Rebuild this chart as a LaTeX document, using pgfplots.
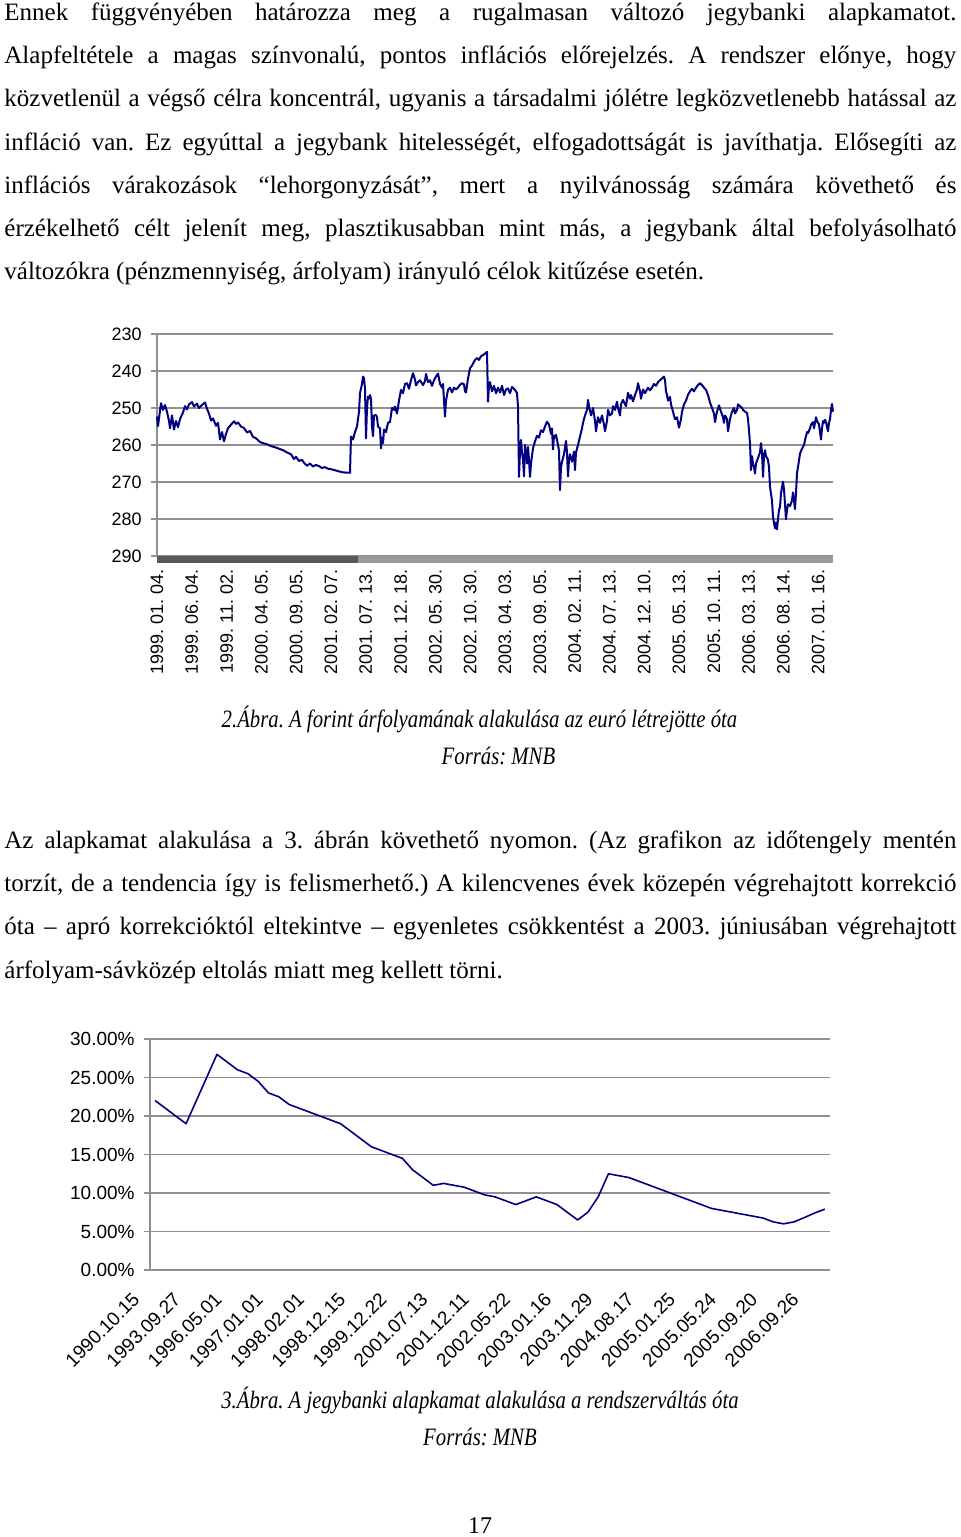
\documentclass[border=0pt]{standalone}
\usepackage{fontspec}
\setmainfont{Liberation Serif}
\newfontfamily\capfont[FakeStretch=0.83]{Liberation Serif}
\newfontfamily\chartfont{Liberation Sans}
\usepackage{pgfplots}
\pgfplotsset{compat=1.18}
\definecolor{navyline}{HTML}{000080}
\definecolor{gridgray}{HTML}{909090}
\newcommand{\jl}[1]{\makebox[476pt][s]{#1}}
\newcommand{\bodyfont}{\fontsize{12.5}{15}\selectfont}
\frenchspacing

% EUR/HUF, x = trading-day position (label step 34.8)
\pgfplotstableread{
x v
0 252.3
1 254.9
4 248.7
6 250.5
8 249.2
10 251
12 253.5
13 255.5
15 252
17 255.8
19 253.5
21 255.2
23 253
26 251.2
28 249.5
30 250.4
32 249
35 248.4
37 249.6
40 248.8
42 250
45 249.2
48 248.5
50 250.2
52 251.5
54 253.4
56 252.8
59 254.8
61 254
63 258.5
65 256.5
67 259
69 257
71 255.5
74 254.5
77 253.6
79 254.3
81 253.9
84 255
87 255.4
90 256.6
93 256.2
96 257.8
99 258.2
103 259.2
106 259.5
110 259.8
114 260.3
118 260.6
122 261
126 261.4
130 262
134 262.5
137 263.8
139 263.2
142 264.3
145 264
147 264.8
150 265.6
153 265
156 265.8
159 265.4
162 265.7
165 266.2
168 266
171 266.4
175 266.6
179 266.9
183 267.2
186 267.4
193 267.5
194 257.7
196 258.5
198 256.5
200 255
202 251
203 246
205 243.5
206 241.5
207 242
208 244.7
209 258.2
210 250
211 246.9
212 247.5
213 246.5
214 247.5
215 255
216 257.6
217 252
219 251.9
220 252.5
221 255
223 255.5
224 260.9
225 258
226 259.5
227 255.8
229 256.5
231 254
233 253.8
235 250
237 250.5
238 249.6
240 251.5
242 248
244 245.1
246 246
248 243.5
250 243.3
252 244.8
254 242.5
256 240.6
258 242.3
259 243.9
261 243
263 242.5
266 243.8
268 242.7
269 240.8
271 243
273 242.5
275 244
277 242.5
279 241.5
281 240.7
282 242
283 243.5
285 244.5
286 243.5
287 248
288 252.3
289 248
291 245.1
293 244.5
295 245.8
297 244.5
299 245
301 244.5
303 243.7
305 243.3
307 243.6
308 245.5
309 245.8
311 242
313 239.3
315 238.5
318 237
320 236.5
322 237
324 236
326 235.7
328 235.3
330 234.8
331 248.3
332 244
333 243
335 245.5
337 244
339 246
341 244.5
343 245.8
345 244
347 246.5
349 245
351 244.7
353 246
355 244.3
357 244.8
359 245.5
360 246
361 249.6
362 268.6
363 262
364 258.6
365 262
366 264
367 268.5
368 260
369 262.5
370 265
371 260.5
372 264
373 268.6
374 265
376 260.9
378 259
380 257.5
382 258
384 256
386 256.5
388 255
390 253.7
392 254.5
394 257
395 255.5
396 261.2
397 257.5
398 258
399 257.2
401 260
402 261.5
403 272.2
404 266
405 264.5
407 262.5
409 258.9
410 262
411 268.5
412 264
413 262.5
415 264.5
417 261.8
418 266.8
419 262
421 260
423 257.7
425 255.5
426 254
428 252
430 250.5
431 247.8
432 249.5
434 252
436 250
438 253.5
439 256.3
441 252.5
443 254
445 252
447 254.5
448 256.3
450 253.5
451 250.5
453 252
455 251.5
456 249.5
458 250.5
460 248.3
461 250
463 252
464 249
466 247.8
468 249
469 249.5
471 245.9
473 247.5
474 246.5
476 248.2
478 246.5
480 245
481 243.3
483 245.5
484 247.5
486 245
488 246
491 244.5
493 245.2
495 244.5
497 243.5
499 244
501 243
503 242.5
505 242
507 241.5
508 242.5
509 245.5
510 246.5
511 248
513 247
514 249
516 251
518 253
520 252.5
522 255.3
524 253
525 251
527 249
529 248
531 246.4
533 245.5
535 244.8
537 245.5
539 244.5
541 243.8
543 243.3
545 243.8
547 244.5
549 245.1
551 246.5
553 248.5
555 250
557 251.5
558 253.8
560 251
562 249.3
564 251
566 252.5
567 254
568 252
570 253
571 256.3
573 253
575 251
577 250
578 251.5
580 250.5
581 249
583 249.5
585 250
586 250.5
588 251
590 251.3
591 253
592 256
593 259.5
594 266.8
595 263
596 265
597 266
598 267.7
599 265
601 263.5
603 262
604 259.5
605 262
606 268.6
607 263
608 261.4
609 263
610 263.5
611 264
612 266
613 271.3
615 275
616 279.4
617 281
618 282.5
619 281
620 282.8
621 280
622 277.5
623 276.8
624 273
626 269.9
627 272
628 276
629 280.1
630 277.5
631 276
633 276.5
635 275
636 272.8
637 275
638 277.3
639 273
640 267.6
641 266
643 262.3
645 261
647 260
648 258.7
650 256.5
651 256.8
653 255.5
654 254.5
656 253.8
657 255.5
659 252.5
660 253.5
662 254.5
663 256.5
664 258.5
665 255.5
666 253.5
667 254
668 253.2
669 253.8
671 256.3
672 254
673 253
674 250.5
675 248.9
676 251
}\forint

% base rate, one row per category
\pgfplotstableread{
c r
0 22
1 21
2 20
3 19
4 22
5 25
6 28
7 27
8 26
9 25.5
10 24.5
11 23
12 22.5
13 21.5
14 21
15 20.5
16 20
17 19.5
18 19
19 18
20 17
21 16
22 15.5
23 15
24 14.5
25 13
26 12
27 11
28 11.25
29 11
30 10.75
31 10.25
32 9.75
33 9.5
34 9
35 8.5
36 9
37 9.5
38 9
39 8.5
40 7.5
41 6.5
42 7.5
43 9.5
44 12.5
45 12.25
46 12
47 11.5
48 11
49 10.5
50 10
51 9.5
52 9
53 8.5
54 8
55 7.75
56 7.5
57 7.25
58 7
59 6.75
60 6.25
61 6
62 6.25
63 6.8
64 7.4
65 7.9
}\alapkamat

\begin{document}
\begin{tikzpicture}
\begin{scope}[x=0.5pt,y=-0.5pt]
\path (0,0) rectangle (960,1537);
\begin{scope}[every node/.style={inner sep=0pt,anchor=base west,font=\bodyfont}]
\node at (4,20) {\jl{Ennek függvényében határozza meg a rugalmasan változó jegybanki alapkamatot.}};
\node at (4,63.3) {\jl{Alapfeltétele a magas színvonalú, pontos inflációs előrejelzés. A rendszer előnye, hogy}};
\node at (4,106.6) {\jl{közvetlenül a végső célra koncentrál, ugyanis a társadalmi jólétre legközvetlenebb hatással az}};
\node at (4,150) {\jl{infláció van. Ez egyúttal a jegybank hitelességét, elfogadottságát is javíthatja. Elősegíti az}};
\node at (4,193.2) {\jl{inflációs várakozások “lehorgonyzását”, mert a nyilvánosság számára követhető és}};
\node at (4,236.5) {\jl{érzékelhető célt jelenít meg, plasztikusabban mint más, a jegybank által befolyásolható}};
\node at (4,279.8) {változókra (pénzmennyiség, árfolyam) irányuló célok kitűzése esetén.};
\node at (4,848) {\jl{Az alapkamat alakulása a 3. ábrán követhető nyomon. (Az grafikon az időtengely mentén}};
\node at (4,891.3) {\jl{torzít, de a tendencia így is felismerhető.) A kilencvenes évek közepén végrehajtott korrekció}};
\node at (4,934.6) {\jl{óta – apró korrekcióktól eltekintve – egyenletes csökkentést a 2003. júniusában végrehajtott}};
\node at (4,978) {árfolyam-sávközép eltolás miatt meg kellett törni.};
\end{scope}
\begin{scope}[every node/.style={inner sep=0pt,anchor=base,font=\capfont\itshape\bodyfont}]
\node at (479.5,727) {2.Ábra. A forint árfolyamának alakulása az euró létrejötte óta};
\node at (498.5,764) {Forrás: MNB};
\node at (480,1408) {3.Ábra. A jegybanki alapkamat alakulása a rendszerváltás óta};
\node at (480,1445) {Forrás: MNB};
\end{scope}
\node[inner sep=0pt,anchor=base,font=\fontsize{12}{14}\selectfont] at (480,1533) {17};
\end{scope}

\begin{axis}[
  at={(78.5pt,-278pt)}, anchor=south west,
  scale only axis, width=338pt, height=111pt,
  xmin=0, xmax=676, ymin=230, ymax=290, y dir=reverse,
  clip=false,
  axis line style={draw=none},
  ytick={230,240,...,290},
  yticklabels={230,240,250,260,270,280,290},
  xtick={0,34.8,69.6,104.4,139.2,174,208.8,243.6,278.4,313.2,348,382.8,417.6,452.4,487.2,522,556.8,591.6,626.4,661.2},
  xticklabels={1999. 01. 04.,1999. 06. 04.,1999. 11. 02.,2000. 04. 05.,2000. 09. 05.,2001. 02. 07.,2001. 07. 13.,2001. 12. 18.,2002. 05. 30.,2002. 10. 30.,2003. 04. 03.,2003. 09. 05.,2004. 02. 11.,2004. 07. 13.,2004. 12. 10.,2005. 05. 13.,2005. 10. 11.,2006. 03. 13.,2006. 08. 14.,2007. 01. 16.},
  ymajorgrids, grid style={gridgray, line width=0.8pt},
  tick align=outside, major tick length=3pt,
  ytick pos=left, ytick style={gridgray, line width=0.8pt},
  xtick style={draw=none},
  tick label style={font=\chartfont\fontsize{9}{10}\selectfont, inner sep=0pt},
  yticklabel style={anchor=east, xshift=-4.5pt},
  xticklabel style={yshift=-3.5pt, rotate=90, anchor=east},
]
\fill[black!65] (axis cs:0,290) rectangle (axis cs:201,291.9);
\fill[black!40] (axis cs:201,290) rectangle (axis cs:676,291.9);
\draw[gridgray, line width=0.8pt] (axis cs:0,230) -- (axis cs:0,290);
\addplot[navyline, line width=1pt, line join=round] table[x=x, y=v] {\forint};
\end{axis}

\begin{axis}[
  at={(75pt,-635pt)}, anchor=south west,
  scale only axis, width=340pt, height=115.5pt,
  xmin=-0.5, xmax=65.5, ymin=0, ymax=30,
  axis lines*=left, axis line style={gridgray, line width=0.8pt},
  ytick={0,5,...,30},
  yticklabels={0.00\%,5.00\%,10.00\%,15.00\%,20.00\%,25.00\%,30.00\%},
  xtick={0,4,...,64},
  xticklabels={1990.10.15,1993.09.27,1996.05.01,1997.01.01,1998.02.01,1998.12.15,1999.12.22,2001.07.13,2001.12.11,2002.05.22,2003.01.16,2003.11.29,2004.08.17,2005.01.25,2005.05.24,2005.09.20,2006.09.26},
  minor xtick={-0.5,0.5,...,65.5},
  ymajorgrids, grid style={gridgray, line width=0.8pt},
  tick align=outside, major tick length=3pt, minor tick length=3pt,
  xtick style={draw=none},
  minor tick style={draw=gridgray, line width=0.6pt},
  ytick style={gridgray, line width=0.8pt},
  tick label style={font=\chartfont\fontsize{9.5}{10}\selectfont, inner sep=0pt},
  yticklabel style={anchor=east, xshift=-4.5pt},
  xticklabel style={xshift=-9.5pt, yshift=-10pt, rotate=45, anchor=east},
]
\addplot[navyline, line width=0.8pt, line join=round] table[x=c, y=r] {\alapkamat};
\end{axis}
\end{tikzpicture}
\end{document}
